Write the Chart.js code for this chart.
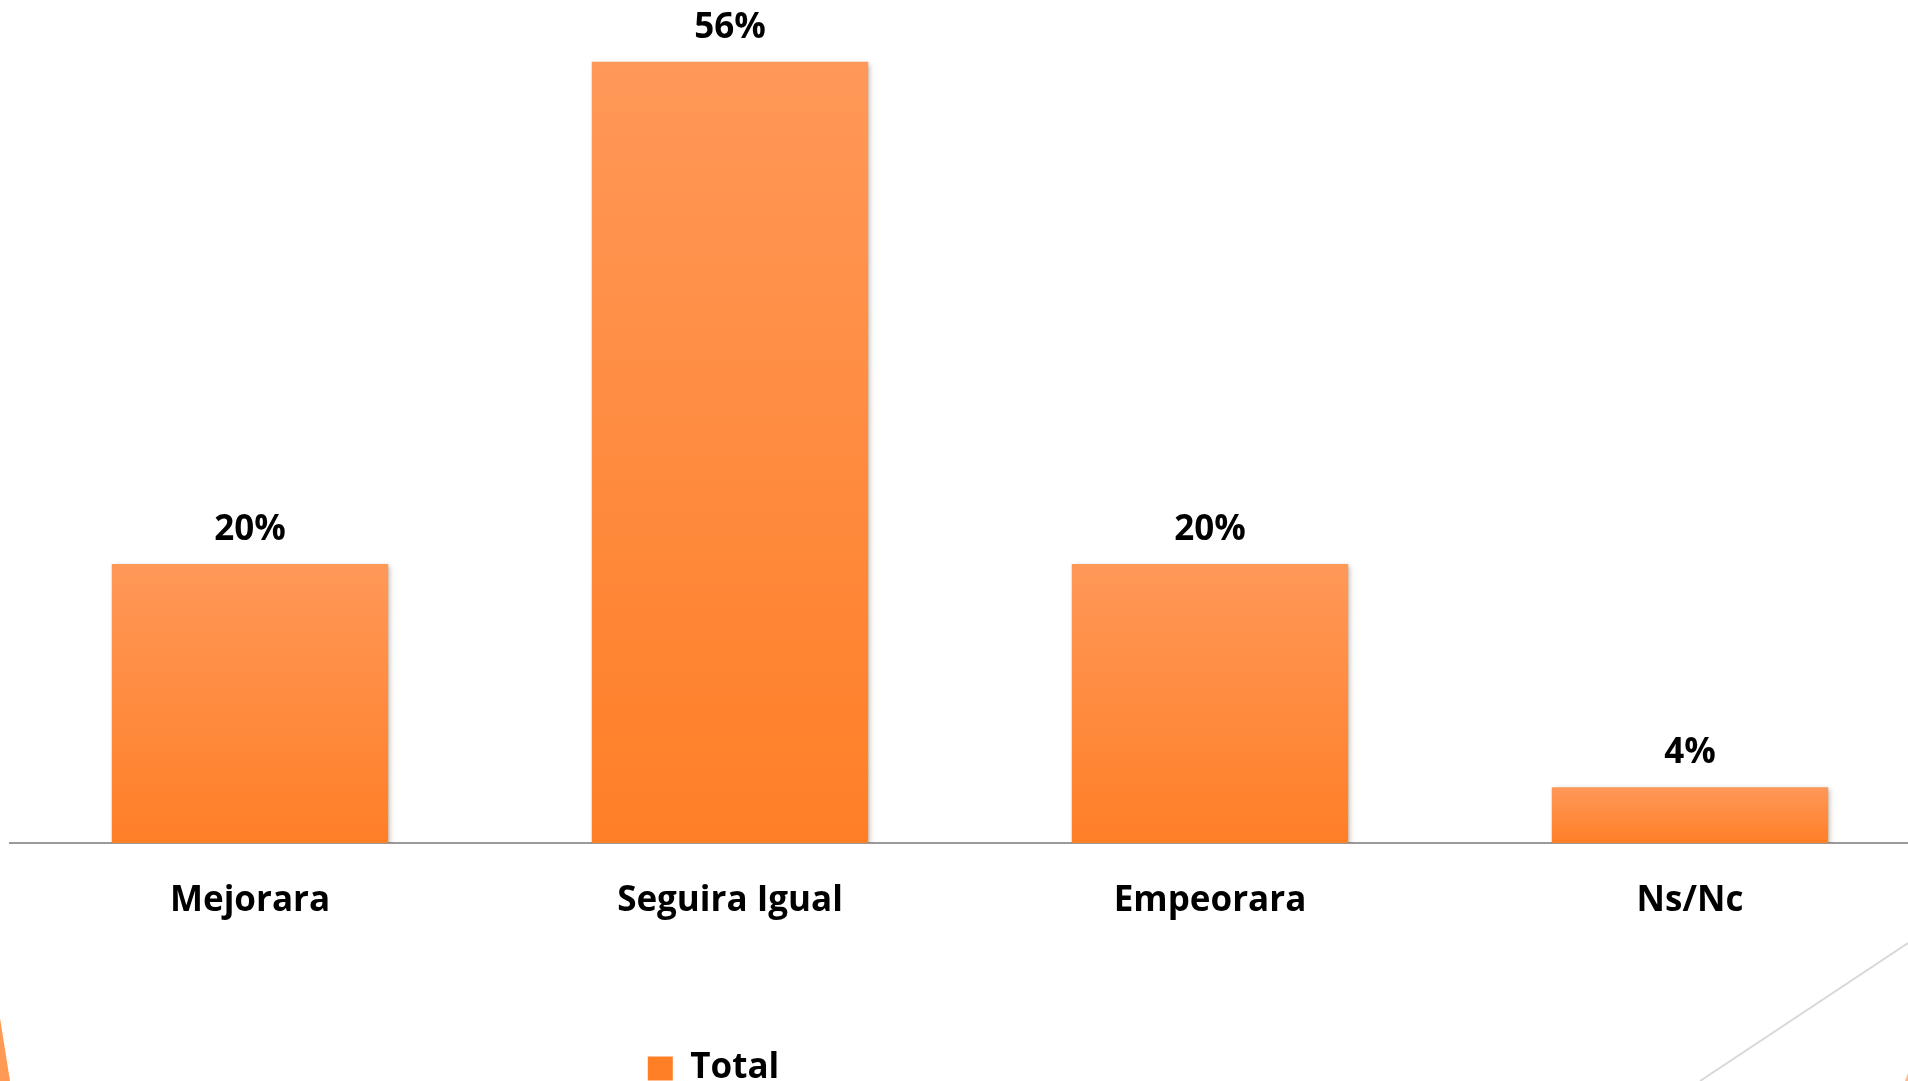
<!DOCTYPE html>
<html>
<head>
<meta charset="utf-8">
<script src="https://cdn.jsdelivr.net/npm/chart.js@4.4.0/dist/chart.umd.min.js"></script>
<style>
  html, body { margin: 0; padding: 0; background: #fff; overflow: hidden; width: 1908px; height: 1081px; }
  #wrap { position: absolute; left: 0; top: 0; width: 1935px; height: 1096px; }
  #deco { position: absolute; left: 0; top: 0; pointer-events: none; }
</style>
</head>
<body>
<div id="wrap"><canvas id="chart"></canvas></div>
<svg id="deco" width="1908" height="1081">
  <polygon points="0,1018 10,1081 0,1081" fill="#ff9a55"/>
  <line x1="1908" y1="943" x2="1700" y2="1081" stroke="#d9d9d9" stroke-width="2"/>
  <polygon points="1905,1081 1908,1073 1908,1081" fill="#ffb98a"/>
</svg>
<script>
const categories = ['Mejorara', 'Seguira Igual', 'Empeorara', 'Ns/Nc'];
const totals = [20, 56, 20, 4];
const seriesName = 'Total';

const barTop = '#ff9858';
const barBottom = '#ff7f27';

function barGradient(ctx) {
    const chart = ctx.chart;
    if (!chart.chartArea || ctx.type !== 'data') return '#ff8a3d';
    const y = chart.scales.y;
    const top = y.getPixelForValue(ctx.parsed.y);
    const base = y.getPixelForValue(0);
    if (!isFinite(top) || top === base) return barBottom;
    const g = chart.ctx.createLinearGradient(0, top, 0, base);
    g.addColorStop(0, barTop);
    g.addColorStop(1, barBottom);
    return g;
}

const labelFont = { family: 'Open Sans', weight: 'bold', size: 35 };

const barDecor = {
    id: 'barDecor',
    beforeDatasetsDraw(chart) {
        const c = chart.ctx;
        c.save();
        c.shadowColor = 'rgba(0,0,0,0.28)';
        c.shadowBlur = 5;
        c.shadowOffsetX = 2;
        c.shadowOffsetY = 2;
    },
    afterDatasetsDraw(chart) {
        const c = chart.ctx;
        c.restore();
        c.save();
        c.font = 'bold 35px "Open Sans"';
        c.fillStyle = '#000';
        c.textAlign = 'center';
        c.textBaseline = 'alphabetic';
        chart.getDatasetMeta(0).data.forEach((bar, i) => {
            c.fillText(totals[i] + '%', bar.x, bar.y - 24);
        });
        c.restore();
    },
    afterLayout(chart) {
        // legend sits left of centre in the original slide
        chart.legend.left = 10;
        chart.legend.right = 1417;
    }
};

new Chart(document.getElementById('chart'), {
    type: 'bar',
    data: {
        labels: categories,
        datasets: [{
            label: seriesName,
            data: totals,
            backgroundColor: barGradient,
            borderWidth: 0,
            categoryPercentage: 0.576,
            barPercentage: 1
        }]
    },
    options: {
        responsive: true,
        maintainAspectRatio: false,
        animation: false,
        layout: { padding: { top: 6, left: 10, right: 5, bottom: 0 } },
        scales: {
            y: { display: false, min: 0, max: 60 },
            x: {
                grid: { display: false, drawTicks: false },
                border: { display: true, color: '#9a9a9a', width: 2 },
                ticks: { color: '#000', font: labelFont, padding: 37 },
                afterFit: (scale) => { scale.height = 198; }
            }
        },
        plugins: {
            legend: {
                position: 'bottom',
                labels: { color: '#000', font: labelFont, boxWidth: 25, boxHeight: 24, padding: 10 }
            },
            tooltip: { enabled: false }
        }
    },
    plugins: [barDecor]
});
</script>
</body>
</html>
